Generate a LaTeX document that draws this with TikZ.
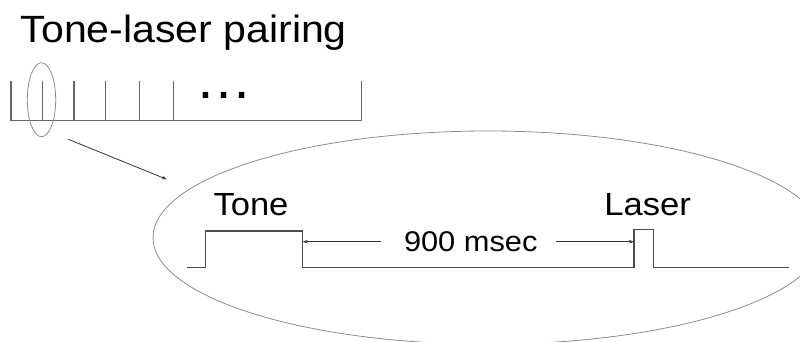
\documentclass[tikz,border=0pt]{standalone}
\usepackage{fontspec}
\setmainfont{Liberation Sans}
\usetikzlibrary{arrows.meta,shapes.geometric}
% slide text is set slightly wide
\newcommand{\widetext}[1]{\scalebox{1.08}[1]{#1}}
\begin{document}
\begin{tikzpicture}[x=1pt,y=-1pt,
  label text/.style={inner sep=0pt,anchor=base west,text=black},
  timeline/.style={draw=black!60,line width=1.2pt},
  signal/.style={draw=black!70,line width=1.1pt},
  lens/.style={draw=black!45,line width=0.8pt},
  pointer/.style={draw=black!80,line width=0.8pt,-{Stealth[length=5pt,width=3.5pt]}}]
\useasboundingbox (0,0) rectangle (800,341);
\clip (0,0) rectangle (800,341);

% title
\node[label text,font=\fontsize{38}{38}\selectfont] (title) at (20.5,42.3) {\widetext{Tone-laser pairing}};

% trial sequence along the session
\coordinate (t0) at (11,120.7);
\coordinate (tN) at (361.7,120.7);
\draw[timeline] (11,80.7) -- (t0) -- (tN) -- (361.7,80.7);
\foreach \x in {42.3,74,105.7,139.7,173.7}
  \draw[timeline] (\x,80.7) -- (\x,120.7);
\node[label text,font=\fontsize{57}{57}\selectfont] (dots) at (195.5,98.5) {…};

% magnifier on one trial
\node[lens,ellipse,minimum width=28.4pt,minimum height=74pt,inner sep=0pt] (lensA) at (41.5,99.7) {};
\node[lens,ellipse,minimum width=670pt,minimum height=213.2pt,inner sep=0pt] (lensB) at (488,237.6) {};
\coordinate (zoomfrom) at (68.3,139.3);
\coordinate (zoomto) at (166.7,179.3);
\draw[pointer] (zoomfrom) -- (zoomto);

% single trial: tone, delay, laser
\draw[signal] (186.7,267.3) -- (205.7,267.3) -- (205.7,231) -- (302.7,231) -- (302.7,267.3)
  -- (634,267.3) -- (634,229.3) -- (653.3,229.3) -- (653.3,267.3) -- (789.3,267.3);
\coordinate (toneoff) at (302.7,241.7);
\coordinate (laseron) at (634,241.7);
\node[label text,font=\fontsize{32}{32}\selectfont] (tone) at (213.3,215.8) {\widetext{Tone}};
\node[label text,font=\fontsize{32}{32}\selectfont] (laser) at (604.2,215.8) {\widetext{Laser}};
\node[label text,font=\fontsize{28.5}{28.5}\selectfont] (delay) at (403.8,251.7) {\widetext{900 msec}};
\coordinate (delayL) at (380.7,241.7);
\coordinate (delayR) at (556,241.7);
\draw[pointer] (delayL) -- (toneoff);
\draw[pointer] (delayR) -- (laseron);
\end{tikzpicture}
\end{document}
